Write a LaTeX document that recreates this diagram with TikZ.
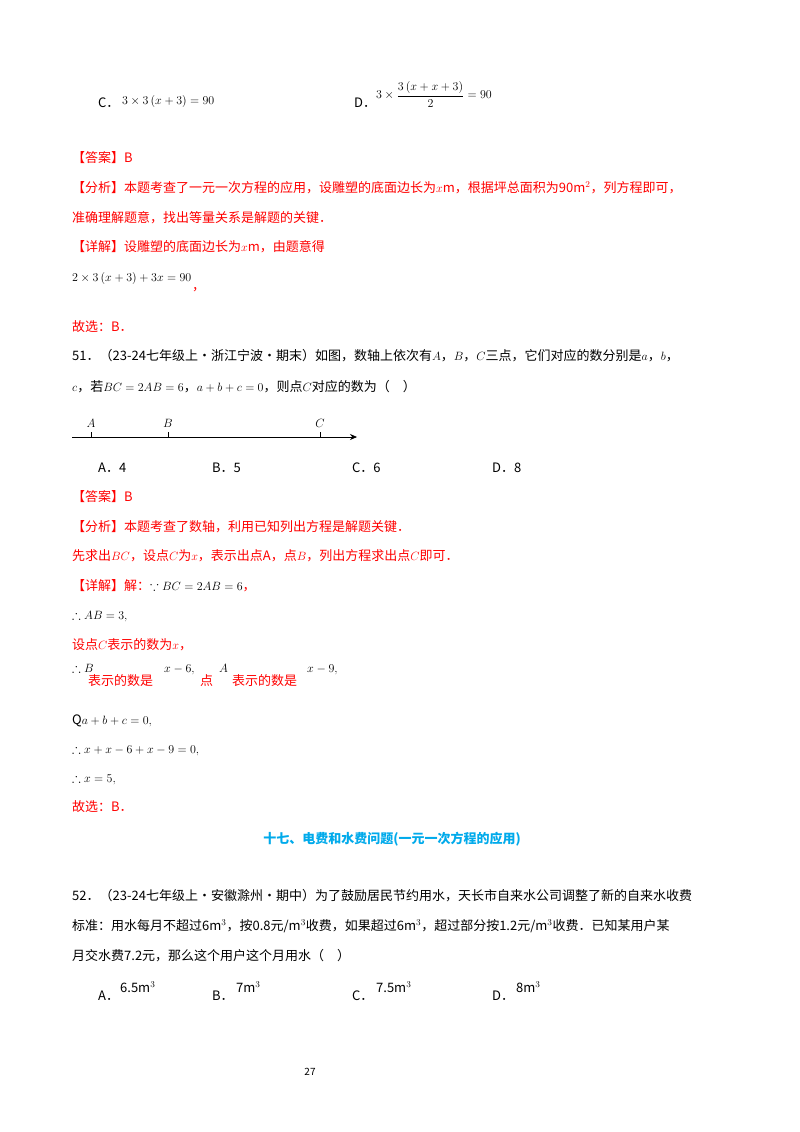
\documentclass[tikz,border=0pt]{standalone}
\usepackage{amssymb}
\usepackage{fontspec}
\setmainfont{Noto Sans CJK SC}
\usetikzlibrary{arrows.meta}
\definecolor{ared}{RGB}{255,0,0}
\definecolor{ablue}{RGB}{0,170,235}
\begin{document}
\begin{tikzpicture}[x=1pt,y=-1pt,
  t/.style={anchor=base west,inner sep=0pt,font=\fontsize{13}{15}\selectfont},
  r/.style={t,text=ared},
  sm/.style={anchor=base west,inner sep=0pt,font=\fontsize{10}{12}\selectfont}]
\useasboundingbox (0,0) rectangle (800,1132);
\fill[white] (0,0) rectangle (800,1132);
% options C D
\node[t] (c1) at (98,107) {C．};
\node[t] (c2) at (122,104) {$3\times3\left(x+3\right)=90$};
\node[t] (d1) at (354,107) {D．};
\node[t] (d2) at (376,99) {$\displaystyle 3\times\frac{3\left(x+x+3\right)}{2}=90$};
\node[r] (a1) at (72,162) {【答案】B};
\node[r] (a2) at (72,192) {【分析】本题考查了一元一次方程的应用，设雕塑的底面边长为$x$m，根据坪总面积为90m$^2$，列方程即可，};
\node[r] (a3) at (72,222) {准确理解题意，找出等量关系是解题的关键．};
\node[r] (a4) at (72,251) {【详解】设雕塑的底面边长为$x$m，由题意得};
\node[t] (a5) at (72,281) {$2\times3\left(x+3\right)+3x=90$};
\node[r] (a6) at (192,290) {，};
\node[r] (a7) at (72,331) {故选：B．};
% 51
\node[t] (q1) at (72,360) {51．（23-24七年级上·浙江宁波·期末）如图，数轴上依次有$A$，$B$，$C$三点，它们对应的数分别是$a$，$b$，};
\node[t] (q2) at (72,391) {$c$，若$BC=2AB=6$，$a+b+c=0$，则点$C$对应的数为（\quad ）};
\coordinate (s) at (72,437);
\coordinate (e) at (357,437);
\draw[-{Stealth[length=7pt,width=6pt]},line width=0.7pt] (s) -- (e);
\foreach \n/\xx/\l in {ta/91/A,tb/168/B,tc/320/C}{
  \coordinate (\n) at (\xx,437);
  \draw[line width=0.6pt] (\n) -- ++(0,-5);
  \node[t,anchor=base] at (\xx,427) {$\l$};
}
\node[t] (o1) at (98,472) {A．4};
\node[t] (o2) at (212,472) {B．5};
\node[t] (o3) at (352,472) {C．6};
\node[t] (o4) at (492,472) {D．8};
\node[r] (b1) at (72,501) {【答案】B};
\node[r] (b2) at (72,531) {【分析】本题考查了数轴，利用已知列出方程是解题关键．};
\node[r] (b3) at (72,560) {先求出$BC$，设点$C$为$x$，表示出点A，点$B$，列出方程求出点$C$即可．};
\node[r] (b4) at (72,590) {【详解】解：\textcolor{black}{$\because BC=2AB=6$}，};
\node[t] (b5) at (72,619) {$\therefore AB=3,$};
\node[r] (b6) at (72,649) {设点$C$表示的数为$x$，};
\node[t] (b7) at (72,672) {$\therefore B$};
\node[r] (b8) at (88,685) {表示的数是};
\node[t] (b9) at (164,672) {$x-6,$};
\node[r] (b10) at (200,685) {点};
\node[t] (b11) at (219,672) {$A$};
\node[r] (b12) at (232,685) {表示的数是};
\node[t] (b13) at (307,672) {$x-9,$};
\node[t] (b14) at (72,724) {Q$a+b+c=0,$};
\node[t] (b15) at (72,753) {$\therefore x+x-6+x-9=0,$};
\node[t] (b16) at (72,782) {$\therefore x=5,$};
\node[r] (b17) at (72,811) {故选：B．};
\node[t,anchor=base,text=ablue,font=\fontsize{13}{15}\selectfont\bfseries] (h) at (392,843) {十七、电费和水费问题(一元一次方程的应用)};
% 52
\node[t] (p1) at (72,900) {52．（23-24七年级上·安徽滁州·期中）为了鼓励居民节约用水，天长市自来水公司调整了新的自来水收费};
\node[t] (p2) at (72,930) {标准：用水每月不超过6m$^3$，按0.8元/m$^3$收费，如果超过6m$^3$，超过部分按1.2元/m$^3$收费．已知某用户某};
\node[t] (p3) at (72,960) {月交水费7.2元，那么这个用户这个月用水（\quad ）};
\node[t] (e1) at (98,1000) {A．};
\node[t] (e2) at (120,992) {6.5m$^3$};
\node[t] (e3) at (212,1000) {B．};
\node[t] (e4) at (236,992) {7m$^3$};
\node[t] (e5) at (352,1000) {C．};
\node[t] (e6) at (376,992) {7.5m$^3$};
\node[t] (e7) at (492,1000) {D．};
\node[t] (e8) at (516,992) {8m$^3$};
\node[sm,anchor=base] (pg) at (310,1075) {27};
\end{tikzpicture}
\end{document}
